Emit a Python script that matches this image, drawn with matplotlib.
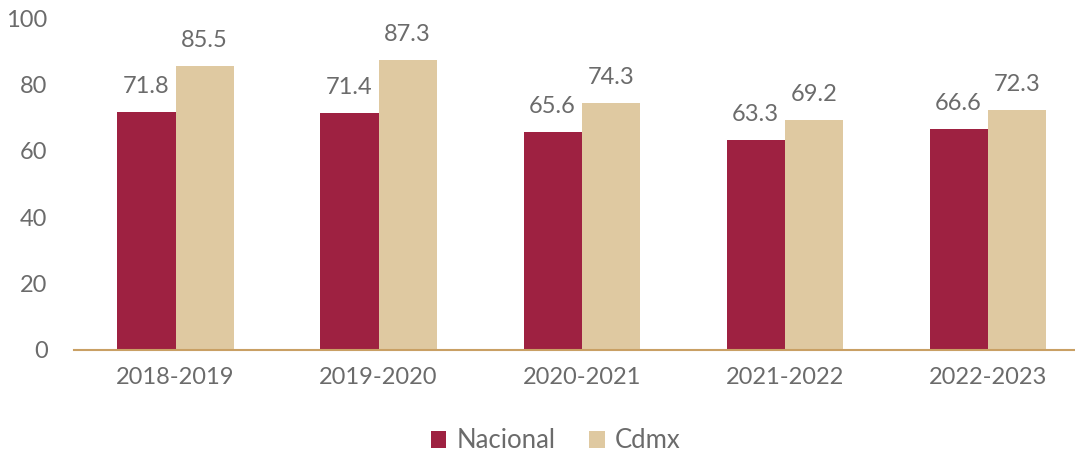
import matplotlib

matplotlib.use("Agg")

import matplotlib.pyplot as plt
import numpy as np

periods = ["2018-2019", "2019-2020", "2020-2021", "2021-2022", "2022-2023"]
nacional = [71.8, 71.4, 65.6, 63.3, 66.6]
cdmx = [85.5, 87.3, 74.3, 69.2, 72.3]

C_NAC = "#9E2141"
C_CDMX = "#DFC9A1"
C_TEXT = "#6B6B6B"
C_AXIS = "#C9A064"

plt.rcParams["font.family"] = ["Lato", "DejaVu Sans"]

fig = plt.figure(figsize=(10.75, 4.55), dpi=100)
ax = fig.add_axes([74 / 1075, 1 - 350 / 455, 1001 / 1075, 332 / 455])

x = np.arange(len(periods))
w = 0.286
b1 = ax.bar(x - w / 2, nacional, w, color=C_NAC, label="Nacional")
b2 = ax.bar(x + w / 2, cdmx, w, color=C_CDMX, label="Cdmx")

# value labels above each bar
for bars, vals in ((b1, nacional), (b2, cdmx)):
    for r, v in zip(bars, vals):
        ax.text(r.get_x() + r.get_width() / 2, v + 4.5, f"{v:.1f}",
                ha="center", va="bottom", fontsize=17, color=C_TEXT)

ax.set_xlim(-0.5, 4.43)
ax.set_ylim(0, 100)
ax.set_yticks(range(0, 101, 20))
ax.set_xticks(x)
ax.set_xticklabels(periods)
ax.tick_params(axis="both", length=0, labelsize=17, labelcolor=C_TEXT)
ax.tick_params(axis="y", pad=19)
ax.tick_params(axis="x", pad=12)
for side in ("left", "right", "top"):
    ax.spines[side].set_visible(False)
ax.spines["bottom"].set_color(C_AXIS)
ax.spines["bottom"].set_linewidth(1.5)

leg = fig.legend(handles=[b1, b2], loc="center", bbox_to_anchor=(0.517, 1 - 441 / 455),
                 ncol=2, frameon=False, fontsize=18.5, handlelength=0.6, handleheight=0.6,
                 handletextpad=0.4, columnspacing=1.3)
for t in leg.get_texts():
    t.set_color(C_TEXT)

fig.savefig("out.png", dpi=100)
